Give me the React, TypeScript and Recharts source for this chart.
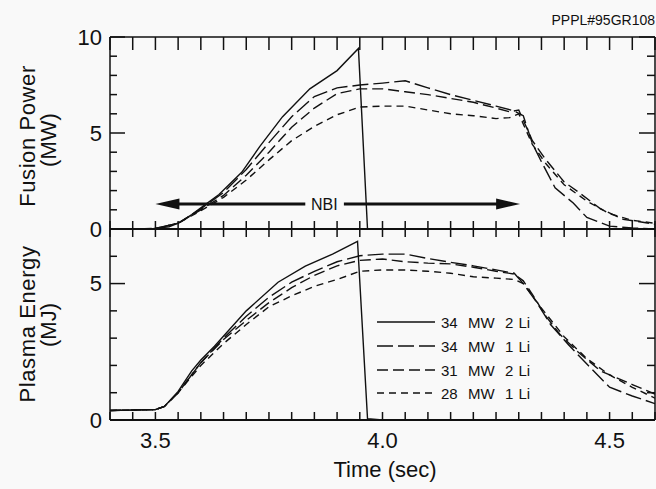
import { LineChart, Line, XAxis, YAxis, ReferenceLine, ReferenceDot } from 'recharts'

const FONT = '"Liberation Sans", Arial, Helvetica, sans-serif'
const INK = '#111'
const BG = '#f9f9f9'

// ── Data ──────────────────────────────────────────────────────────────────────

const SERIES_NAMES = ['34  MW  2 Li', '34  MW  1 Li', '31  MW  2 Li', '28  MW  1 Li']

const X_TICKS = [3.4, 3.45, 3.5, 3.55, 3.6, 3.65, 3.7, 3.75, 3.8, 3.85, 3.9, 3.95, 4.0,
  4.05, 4.1, 4.15, 4.2, 4.25, 4.3, 4.35, 4.4, 4.45, 4.5, 4.55, 4.6]
const X_LABELS = [3.5, 4.0, 4.5]
const FP_TICKS = [0, 1, 2, 3, 4, 5, 6, 7, 8, 9, 10]
const FP_LABELS = [0, 5, 10]
const WP_TICKS = [0, 1, 2, 3, 4, 5, 6, 7]
const WP_LABELS = [0, 5]

// Fusion power (MW)
const FP_T_1 = [3.45, 3.48, 3.5, 3.53, 3.55, 3.58, 3.6, 3.64, 3.69, 3.73, 3.78, 3.84, 3.9, 3.947, 3.967, 4.0, 4.6]
const FP_1   = [0, 0, 0.03, 0.12, 0.3, 0.75, 1.1, 1.8, 2.95, 4.3, 5.85, 7.3, 8.25, 9.4, 0, 0, 0]
const FP_T_2 = [3.45, 3.5, 3.55, 3.6, 3.65, 3.7, 3.75, 3.8, 3.85, 3.9, 3.95, 4.0, 4.05, 4.1, 4.15, 4.2, 4.25, 4.29, 4.31, 4.33, 4.35, 4.38, 4.42, 4.45, 4.5, 4.55, 4.6]
const FP_2   = [0, 0.03, 0.3, 1.05, 1.9, 3.1, 4.5, 5.85, 6.9, 7.35, 7.5, 7.6, 7.72, 7.35, 7.0, 6.7, 6.4, 6.15, 5.9, 4.45, 3.5, 2.15, 1.35, 0.6, 0.15, 0.05, 0]
const FP_T_3 = [3.45, 3.5, 3.55, 3.6, 3.65, 3.7, 3.75, 3.8, 3.85, 3.9, 3.95, 4.0, 4.05, 4.1, 4.15, 4.2, 4.25, 4.28, 4.3, 4.33, 4.36, 4.4, 4.43, 4.48, 4.53, 4.56, 4.6]
const FP_3   = [0, 0.03, 0.3, 1.0, 1.75, 2.8, 4.0, 5.3, 6.3, 7.05, 7.3, 7.3, 7.15, 7.0, 6.8, 6.6, 6.3, 6.1, 6.2, 4.6, 3.6, 2.45, 1.95, 1.05, 0.5, 0.4, 0.25]
const FP_T_4 = [3.45, 3.5, 3.55, 3.6, 3.65, 3.7, 3.75, 3.8, 3.85, 3.9, 3.95, 4.0, 4.05, 4.1, 4.15, 4.2, 4.25, 4.28, 4.3, 4.33, 4.36, 4.4, 4.45, 4.5, 4.55, 4.6]
const FP_4   = [0, 0.03, 0.3, 0.95, 1.65, 2.55, 3.6, 4.6, 5.35, 5.95, 6.35, 6.4, 6.4, 6.2, 6.0, 5.9, 5.75, 5.8, 6.0, 4.4, 3.4, 2.3, 1.45, 0.8, 0.45, 0.3]

// Plasma energy (MJ)
const WP_T_1 = [3.4, 3.5, 3.52, 3.55, 3.58, 3.6, 3.63, 3.7, 3.77, 3.83, 3.89, 3.945, 3.967, 4.0, 4.6]
const WP_1   = [0.35, 0.38, 0.5, 1.05, 1.8, 2.2, 2.7, 4.0, 5.05, 5.64, 6.08, 6.55, 0.05, 0, 0]
const WP_T_2 = [3.4, 3.5, 3.52, 3.55, 3.6, 3.65, 3.7, 3.75, 3.8, 3.85, 3.9, 3.95, 4.0, 4.05, 4.1, 4.15, 4.2, 4.25, 4.29, 4.31, 4.34, 4.37, 4.41, 4.45, 4.5, 4.55, 4.6]
const WP_2   = [0.35, 0.38, 0.5, 1.0, 2.1, 3.0, 3.8, 4.5, 5.05, 5.45, 5.8, 6.02, 6.08, 6.08, 5.92, 5.78, 5.65, 5.5, 5.38, 5.0, 4.3, 3.5, 2.75, 2.05, 1.2, 0.88, 0.6]
const WP_T_3 = [3.4, 3.5, 3.52, 3.55, 3.6, 3.65, 3.7, 3.75, 3.8, 3.85, 3.9, 3.95, 4.0, 4.05, 4.1, 4.15, 4.2, 4.25, 4.29, 4.31, 4.33, 4.36, 4.39, 4.43, 4.48, 4.55, 4.6]
const WP_3   = [0.35, 0.38, 0.5, 1.0, 2.1, 2.95, 3.65, 4.3, 4.85, 5.3, 5.65, 5.85, 5.9, 5.8, 5.75, 5.72, 5.6, 5.45, 5.35, 5.1, 4.6, 3.8, 3.15, 2.5, 1.8, 1.3, 0.95]
const WP_T_4 = [3.4, 3.5, 3.52, 3.55, 3.6, 3.65, 3.7, 3.75, 3.8, 3.85, 3.9, 3.95, 4.0, 4.05, 4.1, 4.15, 4.2, 4.25, 4.29, 4.31, 4.35, 4.4, 4.45, 4.5, 4.55, 4.6]
const WP_4   = [0.35, 0.38, 0.5, 1.0, 2.0, 2.8, 3.5, 4.15, 4.55, 4.9, 5.15, 5.45, 5.5, 5.5, 5.45, 5.38, 5.25, 5.2, 5.15, 5.0, 4.1, 3.05, 2.25, 1.65, 1.2, 0.8]

// NBI window (sec) and arrow height (MW)
const NBI_START = 3.5
const NBI_END = 4.303
const NBI_Y = 1.3

// ── Styles ────────────────────────────────────────────────────────────────────

const SERIES_DASH = [undefined, '16 5', '11 5', '7 5']

type Pt = { t: number; v: number }
const zip = (t: number[], v: number[]): Pt[] => t.map((x, i) => ({ t: x, v: v[i] }))

const FP_DATA = [zip(FP_T_1, FP_1), zip(FP_T_2, FP_2), zip(FP_T_3, FP_3), zip(FP_T_4, FP_4)]
const WP_DATA = [zip(WP_T_1, WP_1), zip(WP_T_2, WP_2), zip(WP_T_3, WP_3), zip(WP_T_4, WP_4)]

// ── Ticks (all drawn inward) ──────────────────────────────────────────────────

function leftTick(labels: number[]) {
  return (p: any) => {
    const v = p.payload.value
    const major = labels.includes(v)
    return (
      <g>
        <line x1={p.x} x2={p.x + (major ? 15 : 7)} y1={p.y} y2={p.y} stroke={INK} strokeWidth={1.5} />
        {major && (
          <text x={p.x - 8} y={p.y} dy="0.36em" textAnchor="end" fontSize={22} fontFamily={FONT} fill={INK}>
            {v}
          </text>
        )}
      </g>
    )
  }
}

function rightTick(labels: number[]) {
  return (p: any) => {
    const major = labels.includes(p.payload.value)
    return <line x1={p.x} x2={p.x - (major ? 16 : 8)} y1={p.y} y2={p.y} stroke={INK} strokeWidth={1.5} />
  }
}

function bottomTick(labels: number[] | null) {
  return (p: any) => {
    const v = p.payload.value
    return (
      <g>
        <line x1={p.x} x2={p.x} y1={p.y} y2={p.y - 8} stroke={INK} strokeWidth={1.5} />
        {labels && labels.includes(v) && (
          <text x={p.x} y={p.y + 28} textAnchor="middle" fontSize={22} fontFamily={FONT} fill={INK}>
            {v.toFixed(1)}
          </text>
        )}
      </g>
    )
  }
}

function topTick(len: number) {
  return (p: any) => <line x1={p.x} x2={p.x} y1={p.y} y2={p.y + len} stroke={INK} strokeWidth={1.5} />
}

function arrowShape(p: any) {
  const { x1, y1, x2, y2 } = p
  const dir = x2 > x1 ? 1 : -1
  const L = 24
  const W = 5.5
  return (
    <g>
      <line x1={x1 + dir * (L - 2)} y1={y1} x2={x2} y2={y2} stroke={INK} strokeWidth={3} />
      <polygon points={`${x1},${y1} ${x1 + dir * L},${y1 - W} ${x1 + dir * L},${y1 + W}`} fill={INK} />
    </g>
  )
}

// ── Panel ─────────────────────────────────────────────────────────────────────

interface PanelProps {
  top: number
  height: number
  margin: { top: number; right: number; bottom: number; left: number }
  data: Pt[][]
  yDomain: [number, number]
  yTicks: number[]
  yLabels: number[]
  xLabels: number[] | null
  topLen: number
  children?: React.ReactNode
}

function Panel({ top, height, margin, data, yDomain, yTicks, yLabels, xLabels, topLen, children }: PanelProps) {
  return (
    <div style={{ position: 'absolute', left: 0, top }}>
      <LineChart width={656} height={height} margin={margin}>
        <XAxis
          xAxisId="b" type="number" dataKey="t" domain={[3.4, 4.6]} ticks={X_TICKS} interval={0}
          allowDataOverflow height={1} tickSize={0} tickMargin={0} tickLine={false}
          axisLine={{ stroke: INK, strokeWidth: 2 }} tick={bottomTick(xLabels)}
        />
        <XAxis
          xAxisId="t" orientation="top" type="number" dataKey="t" domain={[3.4, 4.6]} ticks={X_TICKS} interval={0}
          allowDataOverflow height={1} tickSize={0} tickMargin={0} tickLine={false}
          axisLine={{ stroke: INK, strokeWidth: 1.5 }} tick={topTick(topLen)}
        />
        <YAxis
          yAxisId="l" type="number" domain={yDomain} ticks={yTicks} interval={0} allowDataOverflow
          width={110} tickSize={0} tickMargin={0} tickLine={false}
          axisLine={{ stroke: INK, strokeWidth: 1.5 }} tick={leftTick(yLabels)}
        />
        <YAxis
          yAxisId="r" orientation="right" type="number" domain={yDomain} ticks={yTicks} interval={0} allowDataOverflow
          width={1} tickSize={0} tickMargin={0} tickLine={false}
          axisLine={{ stroke: INK, strokeWidth: 1.5 }} tick={rightTick(yLabels)}
        />
        {data.map((d, i) => (
          <Line
            key={i} xAxisId="b" yAxisId="l" data={d} dataKey="v" type="linear"
            stroke={INK} strokeWidth={1.4} strokeDasharray={SERIES_DASH[i]}
            dot={false} isAnimationActive={false}
          />
        ))}
        {children}
      </LineChart>
    </div>
  )
}

// ── Overlay: titles and legend ────────────────────────────────────────────────

function Overlay() {
  const txt = { fontFamily: FONT, fill: INK }
  const rows = [322, 346, 370, 393]
  return (
    <svg width={656} height={489} style={{ position: 'absolute', left: 0, top: 0, pointerEvents: 'none' }}>
      <text x={655} y={25} textAnchor="end" fontSize={14} {...txt}>PPPL#95GR108</text>

      <text x={35} y={136} transform="rotate(-90 35 136)" textAnchor="middle" fontSize={22} letterSpacing={0.6} {...txt}>Fusion Power</text>
      <text x={56} y={140} transform="rotate(-90 56 140)" textAnchor="middle" fontSize={22} {...txt}>(MW)</text>

      <text x={35} y={324} transform="rotate(-90 35 324)" textAnchor="middle" fontSize={22} letterSpacing={0.6} {...txt}>Plasma Energy</text>
      <text x={56} y={325} transform="rotate(-90 56 325)" textAnchor="middle" fontSize={22} {...txt}>(MJ)</text>

      <text x={385} y={477} textAnchor="middle" fontSize={22} {...txt}>Time (sec)</text>

      {SERIES_NAMES.map((name, i) => (
        <g key={name}>
          <line x1={377} x2={435} y1={rows[i]} y2={rows[i]} stroke={INK} strokeWidth={1.4} strokeDasharray={SERIES_DASH[i]} />
          <text x={441} y={rows[i] + 5.5} fontSize={15} wordSpacing={1} style={{ whiteSpace: 'pre' }} {...txt}>{name}</text>
        </g>
      ))}
    </svg>
  )
}

export default function App() {
  return (
    <div style={{ position: 'absolute', left: 0, top: 0, width: 656, height: 489, background: BG, overflow: 'hidden' }}>
      <Panel
        top={0} height={252} margin={{ top: 36, right: 0, bottom: 22, left: 0 }}
        data={FP_DATA} yDomain={[0, 10]} yTicks={FP_TICKS} yLabels={FP_LABELS} xLabels={null} topLen={13}
      >
        <ReferenceLine
          xAxisId="b" yAxisId="l"
          segment={[{ x: NBI_START, y: NBI_Y }, { x: 3.83, y: NBI_Y }]}
          shape={arrowShape}
        />
        <ReferenceLine
          xAxisId="b" yAxisId="l"
          segment={[{ x: NBI_END, y: NBI_Y }, { x: 3.915, y: NBI_Y }]}
          shape={arrowShape}
        />
        <ReferenceDot
          xAxisId="b" yAxisId="l" x={3.872} y={NBI_Y} r={0}
          shape={(p: any) => (
            <text x={p.cx} y={p.cy} dy="0.36em" textAnchor="middle" fontSize={16} fontFamily={FONT} fill={INK}>NBI</text>
          )}
        />
      </Panel>
      <Panel
        top={220} height={269} margin={{ top: 8, right: 0, bottom: 68, left: 0 }}
        data={WP_DATA} yDomain={[0, 7]} yTicks={WP_TICKS} yLabels={WP_LABELS} xLabels={X_LABELS} topLen={8}
      />
      <Overlay />
    </div>
  )
}
